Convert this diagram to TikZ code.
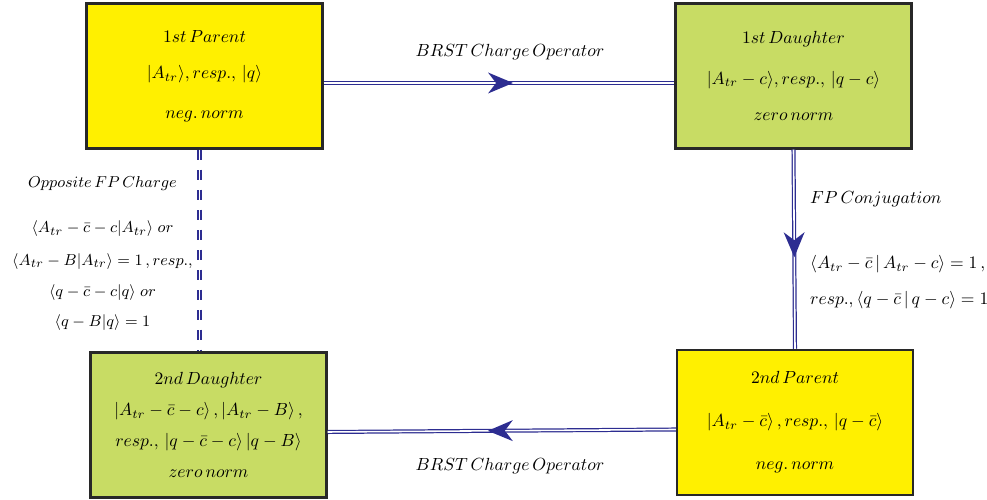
\documentclass[tikz,border=0pt]{standalone}
\usepackage{amsmath, amssymb}
\usetikzlibrary{arrows.meta, positioning, calc, decorations.markings}
\definecolor{parentyellow}{RGB}{255, 240, 0}
\definecolor{daughtergreen}{RGB}{200, 220, 100}
\definecolor{linkblue}{RGB}{45, 45, 145}
\definecolor{boxgray}{RGB}{40, 40, 40}
\tikzset{
  every node/.append style={font=\fontsize{9.6}{11.5}\selectfont},
  statebox/.style={draw=boxgray, line width=1.4pt, minimum width=4.72cm, minimum height=2.9cm, align=center, inner sep=2pt},
  parentbox/.style={statebox, fill=parentyellow},
  daughterbox/.style={statebox, fill=daughtergreen},
  link/.style={draw=linkblue, line width=0.7pt, double=white, double distance=0.9pt},
  midtip/.style={postaction={decorate, decoration={markings, mark=at position 0.54 with {\arrow{Stealth[length=5mm, width=4.2mm, inset=1.6mm, line width=0pt]}}}}}
}

\begin{document}
\begin{tikzpicture}
  \useasboundingbox (0, 0) rectangle (19.74, 10);

  % Parents and daughters
  \node[parentbox] (P1) at (4.09, 8.48) {
    $1st\,Parent$\\[9pt]
    $|A_{tr}\rangle, resp.,\,|q\rangle$\\[11pt]
    $neg.\,norm$
  };
  \node[daughterbox] (D1) at (15.87, 8.48) {
    $1st\,Daughter$\\[11.5pt]
    $|A_{tr}-c\rangle, resp.,\,|q-c\rangle$\\[9pt]
    $zero\,norm$
  };
  \node[parentbox] (P2) at (15.9, 1.55) {
    $2nd\,Parent$\\[13pt]
    $|A_{tr}-\bar{c}\rangle\,, resp.,\,|q-\bar{c}\rangle$\\[13pt]
    $neg.\,norm$
  };
  \node[daughterbox] (D2) at (4.17, 1.5) {
    $2nd\,Daughter$\\[6pt]
    $|A_{tr}-\bar{c}-c\rangle\,,|A_{tr}-B\rangle\,,$\\[6pt]
    $resp.,\,|q-\bar{c}-c\rangle\,|q-B\rangle$\\[6pt]
    $zero\,norm$
  };

  % BRST charge
  \draw[link, midtip, linkblue] ([yshift=-0.14cm]P1.east) -- ([yshift=-0.14cm]D1.west);
  \node at (10.2, 8.95) {$BRST\,Charge\,Operator$};
  \draw[link, midtip, linkblue] ([yshift=-0.14cm]P2.west) -- ([yshift=-0.14cm]D2.east);
  \node at (10.2, 0.68) {$BRST\,Charge\,Operator$};

  % FP conjugation
  \draw[link, midtip, linkblue] (D1.south) -- (P2.north);
  \node[anchor=west] (fpc) at (16.08, 6.02) {$FP\,Conjugation$};
  \node[anchor=west, align=left] (fpcnorm) at (16.08, 4.35) {
    $\langle A_{tr}-\bar{c}\,|\,A_{tr}-c\rangle=1\,,$\\[9pt]
    $resp., \langle q-\bar{c}\,|\,q-c\rangle=1$
  };

  % Opposite FP charge
  \draw[link, dash pattern=on 0.2cm off 0.2cm] ([xshift=-0.1cm]P1.south) -- ([xshift=-0.1cm]P1.south |- D2.north);
  \node[align=center, font=\fontsize{9.3}{11.2}\selectfont] (opp) at (2.05, 4.93) {
    $Opposite\,FP\,Charge$\\[14.5pt]
    $\langle A_{tr}-\bar{c}-c|A_{tr}\rangle\;or$\\[7.5pt]
    $\langle A_{tr}-B|A_{tr}\rangle=1\,, resp.,$\\[6.5pt]
    $\langle q-\bar{c}-c|q\rangle\;or$\\[5.5pt]
    $\langle q-B|q\rangle=1$
  };
\end{tikzpicture}
\end{document}
